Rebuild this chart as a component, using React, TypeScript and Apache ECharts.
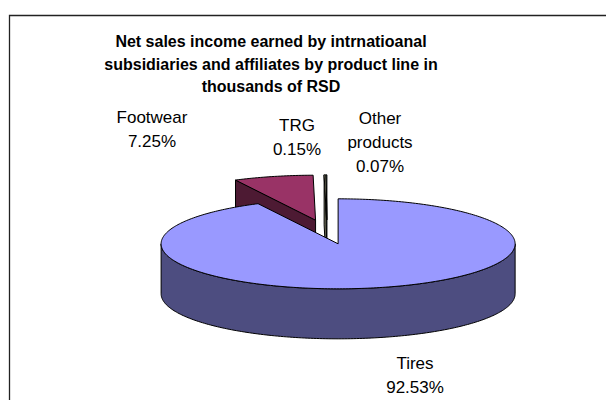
import React, { useEffect, useRef } from "react";
import * as echarts from "echarts";

// ---- data ----
const TITLE_LINES = [
  "Net sales income earned by intrnatioanal",
  "subsidiaries and affiliates by product line in",
  "thousands of RSD",
];
const CATEGORIES = ["Tires", "Footwear", "TRG", "Other products"];
const SHARES = [92.53, 7.25, 0.15, 0.07];

// ---- styling / layout ----
const TOP_COLORS = ["#9999FF", "#993366", "#FFFFCC", "#CCFFFF"];
const SIDE_COLORS = ["#4D4D80", "#4D1A33", "#808066", "#668080"];
const CX = 327;
const CY = 232;
const RX = 177;
const RY = 45;
const DEPTH = 50;
const EXPLODE = 0.27;
const LABEL_POS: [number, number][] = [
  [415, 375],
  [152, 129],
  [297, 137],
  [380, 142],
];
const FONT = '"Liberation Sans", Arial, sans-serif';

export default function App() {
  const ref = useRef<HTMLDivElement>(null);

  useEffect(() => {
    if (!ref.current) return;
    const chart = echarts.init(ref.current, undefined, { renderer: "svg" });

    const total = SHARES.reduce((a, b) => a + b, 0);
    const starts: number[] = [];
    let acc = 0;
    SHARES.forEach((v) => {
      starts.push((acc / total) * 360);
      acc += v;
    });

    const D2R = Math.PI / 180;
    const stroke = { stroke: "#000", lineWidth: 1, lineJoin: "round" };

    const renderItem = (params: any, api: any) => {
      const i = params.dataIndex;
      const v = api.value(0) as number;
      const a0 = starts[i];
      const a1 = a0 + (v / total) * 360;
      const am = ((a0 + a1) / 2) * D2R;
      const px = CX + EXPLODE * RX * Math.sin(am);
      const py = CY - EXPLODE * RY * Math.cos(am);
      const rim = (deg: number, dy: number) => {
        const r = deg * D2R;
        return [px + RX * Math.sin(r), py - RY * Math.cos(r) + dy];
      };
      const arc = (from: number, to: number, dy: number) => {
        const n = Math.max(2, Math.ceil(Math.abs(to - from)) + 1);
        const pts: number[][] = [];
        for (let k = 0; k < n; k++) pts.push(rim(from + ((to - from) * k) / (n - 1), dy));
        return pts;
      };
      const children: any[] = [];
      const w0 = Math.max(a0, 90);
      const w1 = Math.min(a1, 270);
      if (w1 > w0) {
        children.push({
          type: "polygon",
          z2: 1,
          shape: { points: [...arc(w0, w1, 0), ...arc(w1, w0, DEPTH)] },
          style: { fill: SIDE_COLORS[i], ...stroke },
        });
      }
      const radial = (deg: number) => ({
        type: "polygon",
        z2: 1,
        shape: { points: [[px, py], rim(deg, 0), rim(deg, DEPTH), [px, py + DEPTH]] },
        style: { fill: SIDE_COLORS[i], ...stroke },
      });
      if (Math.sin(a0 * D2R) < -1e-6) children.push(radial(a0));
      if (Math.sin(a1 * D2R) > 1e-6) children.push(radial(a1));
      children.push({
        type: "polygon",
        z2: 2,
        shape: { points: [[px, py], ...arc(a0, a1, 0)] },
        style: { fill: TOP_COLORS[i], ...stroke },
      });
      const name = CATEGORIES[i];
      children.push({
        type: "text",
        z2: 3,
        x: LABEL_POS[i][0],
        y: LABEL_POS[i][1],
        style: {
          text: `${name.split(" ").join("\n")}\n${v.toFixed(2)}%`,
          fill: "#000",
          font: `17px ${FONT}`,
          align: "center",
          verticalAlign: "middle",
          textAlign: "center",
          textVerticalAlign: "middle",
          lineHeight: 24,
        },
      });
      return { type: "group", children };
    };

    chart.setOption({
      animation: false,
      backgroundColor: "#fff",
      graphic: [
        {
          type: "rect",
          shape: { x: 9.5, y: 15.5, width: 800, height: 800 },
          style: { fill: "none", stroke: "#222", lineWidth: 1.3 },
        },
        {
          type: "text",
          x: 271,
          y: 30.5,
          style: {
            text: TITLE_LINES.join("\n"),
            fill: "#000",
            font: `bold 16px ${FONT}`,
            align: "center",
            verticalAlign: "top",
            textAlign: "center",
            textVerticalAlign: "top",
            lineHeight: 22.5,
          },
        },
      ],
      series: [
        {
          type: "custom",
          coordinateSystem: "none",
          renderItem,
          data: SHARES.map((v, i) => ({ name: CATEGORIES[i], value: v })),
        },
      ],
    });

    return () => chart.dispose();
  }, []);

  return (
    <div
      ref={ref}
      style={{ position: "fixed", left: 0, top: 0, width: 606, height: 400 }}
    />
  );
}
